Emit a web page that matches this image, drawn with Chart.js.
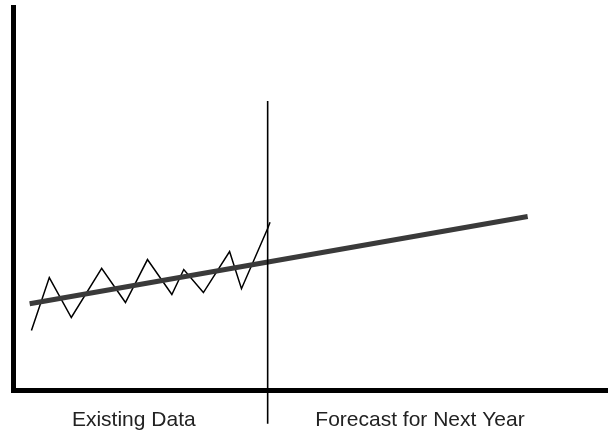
<!DOCTYPE html>
<html>
<head>
<meta charset="utf-8">
<script src="https://cdn.jsdelivr.net/npm/chart.js@4"></script>
<style>
  html, body { margin: 0; padding: 0; background: #fff; }
  #chart { display: block; }
</style>
</head>
<body>
<canvas id="chart" width="608" height="431"></canvas>
<script>
// Datos existentes (zigzag)
const existingX = [3.1, 6.1, 9.8, 14.9, 18.9, 22.6, 26.7, 28.7, 32.0, 36.4, 38.4, 42.8, 43.2];
const existingY = [15.7, 29.5, 19.1, 31.9, 23.0, 34.2, 25.1, 31.6, 25.6, 36.3, 26.6, 42.3, 43.9];

// Tendencia / pronóstico
const trendX = [2.8, 86.5];
const trendY = [22.7, 45.4];

// Separador entre datos existentes y pronóstico
const dividerX = [42.8, 42.8];
const dividerY = [75.5, -8.6];

// Etiquetas del eje X
const sectionLabels = ['Existing Data', 'Forecast for Next Year'];
const sectionCenters = [20.3, 68.4];

const toPoints = (xs, ys) => xs.map((x, i) => ({ x: x, y: ys[i] }));

new Chart(document.getElementById('chart').getContext('2d'), {
    type: 'line',
    data: {
        datasets: [
            {
                label: 'Divider',
                data: toPoints(dividerX, dividerY),
                borderColor: '#000',
                borderWidth: 1.6,
                pointRadius: 0,
                clip: false,
                order: 0
            },
            {
                label: 'Trend',
                data: toPoints(trendX, trendY),
                borderColor: '#3a3a3a',
                borderWidth: 5,
                pointRadius: 0,
                order: 1
            },
            {
                label: 'Existing',
                data: toPoints(existingX, existingY),
                borderColor: '#000',
                borderWidth: 1.5,
                pointRadius: 0,
                tension: 0,
                order: 2
            }
        ]
    },
    options: {
        responsive: false,
        animation: false,
        layout: { padding: { left: 13, top: 7, right: 0, bottom: -19 } },
        plugins: {
            legend: { display: false },
            tooltip: { enabled: false }
        },
        scales: {
            x: {
                type: 'linear',
                min: 0,
                max: 100,
                grid: { display: false, drawTicks: false },
                border: { display: true, color: '#000', width: 5 },
                afterBuildTicks: (axis) => {
                    axis.ticks = sectionCenters.map(v => ({ value: v }));
                },
                ticks: {
                    padding: 17,
                    color: '#222',
                    font: { family: 'Liberation Sans, Arial, sans-serif', size: 21 },
                    maxRotation: 0,
                    autoSkip: false,
                    callback: (value, index) => sectionLabels[index]
                }
            },
            y: {
                type: 'linear',
                min: 0,
                max: 100,
                grid: { display: false, drawTicks: false },
                border: { display: true, color: '#000', width: 5 },
                ticks: { display: false }
            }
        }
    }
});
</script>
</body>
</html>
